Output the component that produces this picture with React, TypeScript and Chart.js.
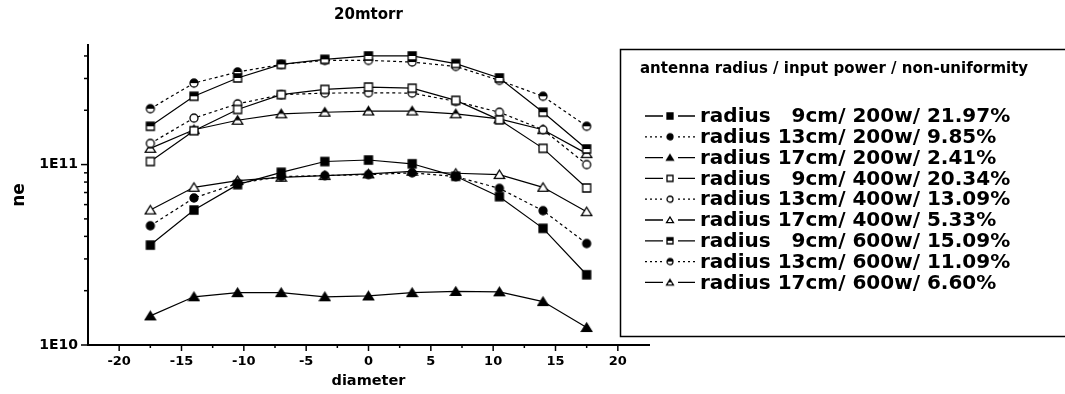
import React, { useEffect, useRef } from 'react';
import { Chart, registerables } from 'chart.js';

Chart.register(...registerables);

// ---------- data ----------
const diameters = [-17.5, -14, -10.5, -7, -3.5, 0, 3.5, 7, 10.5, 14, 17.5];

const r9_200 = [3.58e10, 5.6e10, 7.74e10, 9.06e10, 1.04e11, 1.06e11, 1.01e11, 8.61e10, 6.64e10, 4.43e10, 2.45e10];
const r13_200 = [4.58e10, 6.53e10, 7.87e10, 8.58e10, 8.69e10, 8.8e10, 9.0e10, 8.58e10, 7.38e10, 5.55e10, 3.65e10];
const r17_200 = [1.45e10, 1.85e10, 1.95e10, 1.95e10, 1.85e10, 1.87e10, 1.95e10, 1.98e10, 1.97e10, 1.74e10, 1.25e10];
const r9_400 = [1.04e11, 1.54e11, 2.02e11, 2.44e11, 2.61e11, 2.69e11, 2.65e11, 2.27e11, 1.77e11, 1.23e11, 7.42e10];
const r13_400 = [1.31e11, 1.81e11, 2.17e11, 2.44e11, 2.49e11, 2.5e11, 2.49e11, 2.24e11, 1.95e11, 1.56e11, 1.0e11];
const r17_400 = [5.6e10, 7.48e10, 8.15e10, 8.5e10, 8.69e10, 8.88e10, 9.18e10, 8.95e10, 8.8e10, 7.48e10, 5.48e10];
const r9_600 = [1.63e11, 2.39e11, 3.02e11, 3.59e11, 3.83e11, 4.0e11, 4.0e11, 3.63e11, 3.02e11, 1.95e11, 1.22e11];
const r13_600 = [2.04e11, 2.83e11, 3.26e11, 3.59e11, 3.78e11, 3.78e11, 3.7e11, 3.5e11, 2.93e11, 2.39e11, 1.63e11];
const r17_600 = [1.23e11, 1.56e11, 1.76e11, 1.91e11, 1.95e11, 1.98e11, 1.98e11, 1.91e11, 1.79e11, 1.56e11, 1.15e11];

const seriesLabels = [
  'radius   9cm/ 200w/ 21.97%',
  'radius 13cm/ 200w/ 9.85%',
  'radius 17cm/ 200w/ 2.41%',
  'radius   9cm/ 400w/ 20.34%',
  'radius 13cm/ 400w/ 13.09%',
  'radius 17cm/ 400w/ 5.33%',
  'radius   9cm/ 600w/ 15.09%',
  'radius 13cm/ 600w/ 11.09%',
  'radius 17cm/ 600w/ 6.60%',
];

const yTickValues = [1e10, 2e10, 3e10, 4e10, 5e10, 6e10, 7e10, 8e10, 9e10, 1e11, 2e11, 3e11, 4e11];
const yMajorValues = [1e10, 1e11];
const yMajorLabels = ['1E10', '1E11'];
const xTickValues = [-20, -15, -10, -5, 0, 5, 10, 15, 20];

const titleText = '20mtorr';
const xTitle = 'diameter';
const yTitle = 'ne';
const legendTitle = 'antenna radius / input power / non-uniformity';

// ---------- styles ----------
type Shape = 'square' | 'circle' | 'triangle';
type Fill = 'full' | 'open' | 'half';
const shapes: Shape[] = ['square', 'circle', 'triangle', 'square', 'circle', 'triangle', 'square', 'circle', 'triangle'];
const fills: Fill[] = ['full', 'full', 'full', 'open', 'open', 'open', 'half', 'half', 'half'];
const dotted = [false, true, false, false, true, false, false, true, false];

const FONT = '"DejaVu Sans", sans-serif';

function makeMarker(shape: Shape, fill: Fill, s: number): HTMLCanvasElement {
  const pad = 2;
  const w = Math.ceil(s + pad * 2);
  const c = document.createElement('canvas');
  c.width = w;
  c.height = w;
  const ctx = c.getContext('2d')!;
  const cx = w / 2;
  const cy = w / 2;
  const h = s / 2;
  const path = () => {
    ctx.beginPath();
    if (shape === 'square') ctx.rect(cx - h, cy - h, s, s);
    else if (shape === 'circle') ctx.arc(cx, cy, h, 0, Math.PI * 2);
    else {
      ctx.moveTo(cx, cy - h);
      ctx.lineTo(cx + h * 1.15, cy + h * 0.85);
      ctx.lineTo(cx - h * 1.15, cy + h * 0.85);
      ctx.closePath();
    }
  };
  path();
  ctx.fillStyle = fill === 'full' ? '#000' : '#fff';
  ctx.fill();
  if (fill === 'half') {
    ctx.save();
    path();
    ctx.clip();
    ctx.fillStyle = '#000';
    ctx.fillRect(0, 0, w, cy);
    ctx.restore();
  }
  path();
  ctx.lineWidth = 1.3;
  ctx.strokeStyle = '#000';
  ctx.stroke();
  return c;
}

export default function App() {
  const ref = useRef<HTMLCanvasElement | null>(null);

  useEffect(() => {
    document.body.style.margin = '0';
    const canvas = ref.current;
    if (!canvas) return;

    const markers = shapes.map((s, i) => makeMarker(s, fills[i], s === 'triangle' ? 9 : 8));
    const legendMarkers = shapes.map((s, i) => makeMarker(s, fills[i], 6));
    const series = [r9_200, r13_200, r17_200, r9_400, r13_400, r17_400, r9_600, r13_600, r17_600];

    const datasets = series.map((vals, i) => ({
      label: seriesLabels[i],
      data: diameters.map((x, j) => ({ x, y: vals[j] })),
      borderColor: '#000',
      backgroundColor: '#000',
      borderWidth: 1.2,
      borderDash: dotted[i] ? [3, 3] : [],
      pointStyle: markers[i] as any,
      pointRadius: 5,
      tension: 0,
      fill: false,
    }));

    const ticksPlugin = {
      id: 'ticksPlugin',
      afterDraw(chart: any) {
        const { ctx, scales } = chart;
        const xs = scales.x;
        const ys = scales.y;
        ctx.save();
        ctx.strokeStyle = '#000';
        ctx.lineWidth = 1.5;
        const left = chart.chartArea.left;
        const bottom = chart.chartArea.bottom;
        yTickValues.forEach((v) => {
          const y = ys.getPixelForValue(v);
          const len = yMajorValues.includes(v) ? 7 : 4;
          ctx.beginPath();
          ctx.moveTo(left, y);
          ctx.lineTo(left - len, y);
          ctx.stroke();
        });
        for (let v = -20; v <= 20; v += 2.5) {
          const x = xs.getPixelForValue(v);
          const len = v % 5 === 0 ? 6 : 3;
          ctx.beginPath();
          ctx.moveTo(x, bottom);
          ctx.lineTo(x, bottom + len);
          ctx.stroke();
        }
        ctx.restore();
      },
    };

    const legendPlugin = {
      id: 'boxLegend',
      afterDraw(chart: any) {
        const { ctx } = chart;
        ctx.save();
        ctx.strokeStyle = '#000';
        ctx.lineWidth = 1.5;
        ctx.strokeRect(620.5, 49.5, 480, 287);
        ctx.fillStyle = '#000';
        ctx.textBaseline = 'middle';
        ctx.textAlign = 'left';
        ctx.font = `bold 15px ${FONT}`;
        ctx.fillText(legendTitle, 640, 69);
        ctx.font = `bold 20px ${FONT}`;
        seriesLabels.forEach((label, i) => {
          const y = 116 + 20.8 * i;
          ctx.setLineDash(dotted[i] ? [2, 3] : []);
          ctx.lineWidth = 1.3;
          ctx.beginPath();
          ctx.moveTo(645, y);
          ctx.lineTo(663, y);
          ctx.moveTo(678, y);
          ctx.lineTo(695, y);
          ctx.stroke();
          ctx.setLineDash([]);
          const m = legendMarkers[i];
          ctx.drawImage(m, 670 - m.width / 2, y - m.height / 2);
          ctx.fillText(label, 700, y + 1);
        });
        ctx.restore();
      },
    };

    const chart = new Chart(canvas, {
      type: 'line',
      data: { datasets },
      options: {
        animation: false,
        responsive: false,
        devicePixelRatio: 1,
        layout: { padding: { left: 0, right: 416, top: 0, bottom: 0 } },
        plugins: {
          legend: { display: false },
          tooltip: { enabled: false },
          title: {
            display: true,
            text: titleText,
            fullSize: false,
            color: '#000',
            font: { family: FONT, size: 15, weight: 'bold' },
            padding: { top: 6, bottom: 21 },
          },
        },
        scales: {
          x: {
            type: 'linear',
            min: -22.5,
            max: 22.5,
            afterBuildTicks: (s: any) => {
              s.ticks = xTickValues.map((v) => ({ value: v }));
            },
            afterFit: (s: any) => {
              s.height = 49;
            },
            grid: { display: false, drawTicks: false },
            border: { display: true, color: '#000', width: 2 },
            ticks: {
              color: '#000',
              padding: 9,
              autoSkip: false,
              maxRotation: 0,
              font: { family: FONT, size: 13, weight: 'bold' },
              callback: (v: any) => String(v),
            },
            title: {
              display: true,
              text: xTitle,
              color: '#000',
              font: { family: FONT, size: 14.5, weight: 'bold' },
              padding: { top: 0, bottom: 4 },
            },
          },
          y: {
            type: 'logarithmic',
            min: 1e10,
            max: 4.6e11,
            afterBuildTicks: (s: any) => {
              s.ticks = yTickValues.map((v) => ({ value: v }));
            },
            afterFit: (s: any) => {
              s.width = 88;
            },
            grid: { display: false, drawTicks: false },
            border: { display: true, color: '#000', width: 2 },
            ticks: {
              color: '#000',
              padding: 10,
              autoSkip: false,
              font: { family: FONT, size: 14, weight: 'bold' },
              callback: (v: any) => {
                const k = yMajorValues.indexOf(Number(v));
                return k >= 0 ? yMajorLabels[k] : '';
              },
            },
            title: {
              display: true,
              text: yTitle,
              color: '#000',
              font: { family: FONT, size: 17, weight: 'bold' },
              padding: { top: 9, bottom: 0 },
            },
          },
        },
      },
      plugins: [ticksPlugin, legendPlugin],
    });

    return () => chart.destroy();
  }, []);

  return <canvas ref={ref} width={1065} height={394} style={{ display: 'block' }} />;
}
